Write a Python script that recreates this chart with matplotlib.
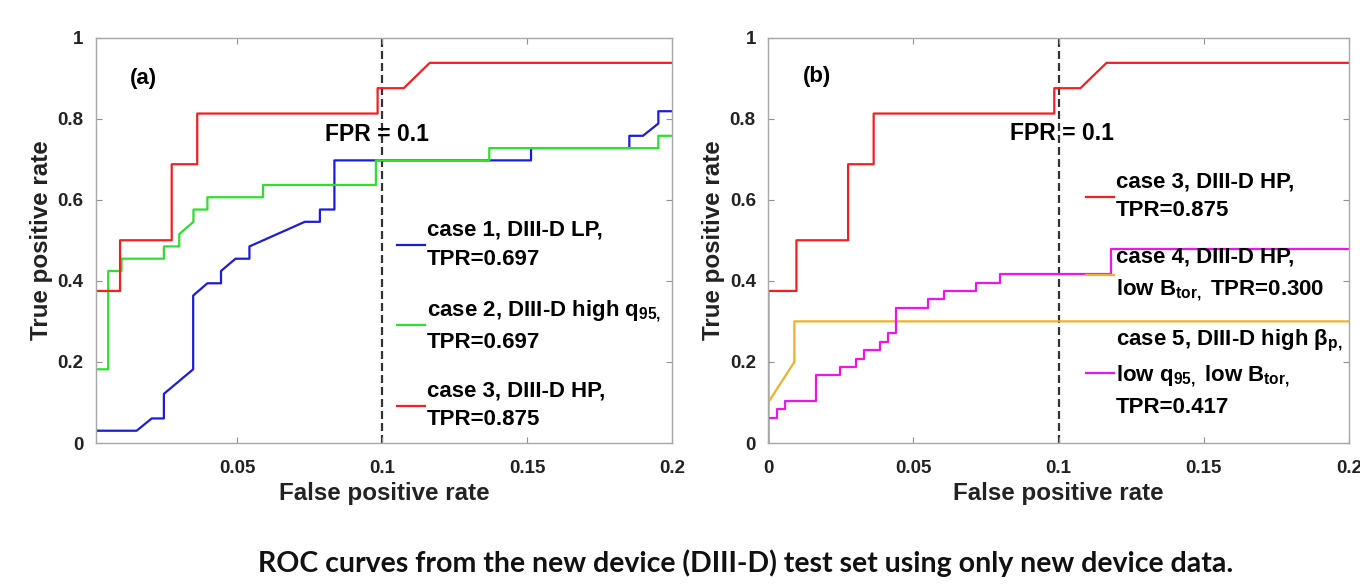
import matplotlib
matplotlib.use("Agg")
import matplotlib.pyplot as plt

plt.rcParams['font.family'] = ['Liberation Sans', 'DejaVu Sans']
plt.rcParams['font.weight'] = 'bold'
plt.rcParams['axes.labelweight'] = 'bold'
plt.rcParams['mathtext.fontset'] = 'custom'
plt.rcParams['mathtext.rm'] = 'Liberation Sans:bold'
plt.rcParams['mathtext.it'] = 'Liberation Sans:bold'
plt.rcParams['mathtext.bf'] = 'Liberation Sans:bold'

# ROC curves (FPR, TPR vertices)
# case 1, DIII-D LP
fpr1 = [0, 0.0154, 0.0206, 0.0248, 0.0248, 0.0349, 0.0349, 0.0398, 0.0445, 0.0445, 0.0495,
        0.0543, 0.0543, 0.0734, 0.0786, 0.0786, 0.0836, 0.0836, 0.1514, 0.1514, 0.1853, 0.1853,
        0.1900, 0.1953, 0.1953, 0.2]
tpr1 = [0.0303, 0.0303, 0.0606, 0.0606, 0.1212, 0.1818, 0.3636, 0.3939, 0.3939, 0.4242, 0.4545,
        0.4545, 0.4848, 0.5455, 0.5455, 0.5758, 0.5758, 0.6970, 0.6970, 0.7273, 0.7273, 0.7576,
        0.7576, 0.7879, 0.8182, 0.8182]
# case 2, DIII-D high q95
fpr2 = [0, 0.0056, 0.0056, 0.0102, 0.0102, 0.0248, 0.0248, 0.0301, 0.0301, 0.0350, 0.0350,
        0.0398, 0.0398, 0.0590, 0.0590, 0.0979, 0.0979, 0.1370, 0.1370, 0.1953, 0.1953, 0.2]
tpr2 = [0.1818, 0.1818, 0.4242, 0.4242, 0.4545, 0.4545, 0.4848, 0.4848, 0.5152, 0.5455, 0.5758,
        0.5758, 0.6061, 0.6061, 0.6364, 0.6364, 0.6970, 0.6970, 0.7273, 0.7273, 0.7576, 0.7576]
# case 3, DIII-D HP
fpr3 = [0, 0, 0.0097, 0.0097, 0.0275, 0.0275, 0.0363, 0.0363, 0.0985, 0.0985, 0.1075, 0.1165, 0.2]
tpr3 = [0, 0.375, 0.375, 0.5, 0.5, 0.6875, 0.6875, 0.8125, 0.8125, 0.875, 0.875, 0.9375, 0.9375]
# case 4, DIII-D HP, low Btor
fpr4 = [0, 0, 0.0090, 0.0090, 0.2]
tpr4 = [0, 0.1, 0.2, 0.3, 0.3]
# case 5, DIII-D high beta_p, low q95, low Btor
fpr5 = [0, 0, 0.0030, 0.0030, 0.0057, 0.0057, 0.0165, 0.0165, 0.0248, 0.0248, 0.0303, 0.0303,
        0.0330, 0.0330, 0.0386, 0.0386, 0.0413, 0.0413, 0.0440, 0.0440, 0.0550, 0.0550, 0.0604,
        0.0604, 0.0716, 0.0716, 0.0799, 0.0799, 0.1180, 0.1180, 0.2]
tpr5 = [0, 0.0625, 0.0625, 0.0833, 0.0833, 0.1042, 0.1042, 0.1667, 0.1667, 0.1875, 0.1875, 0.2083,
        0.2083, 0.2292, 0.2292, 0.25, 0.25, 0.2708, 0.2708, 0.3333, 0.3333, 0.3542, 0.3542,
        0.375, 0.375, 0.3958, 0.3958, 0.4167, 0.4167, 0.4792, 0.4792]

labels_a = ['case 1, DIII-D LP,\nTPR=0.697',
            'case 2, DIII-D high q$_{95,}$\nTPR=0.697',
            'case 3, DIII-D HP,\nTPR=0.875']
labels_b = ['case 3, DIII-D HP,\nTPR=0.875',
            'case 4, DIII-D HP,\nlow B$_{tor,}$ TPR=0.300',
            'case 5, DIII-D high β$_{p,}$\nlow q$_{95,}$ low B$_{tor,}$\nTPR=0.417']
fpr_cut = 0.1
xticks = [0.05, 0.1, 0.15, 0.2]
yticks = [0, 0.2, 0.4, 0.6, 0.8, 1]
caption = 'ROC curves from the new device (DIII-D) test set using only new device data.'

c_red, c_green, c_blue = '#f22020', '#2ee02e', '#1c1cdc'
c_gold, c_mag = '#edb22c', '#ee14ee'
lw = 1.6

fig = plt.figure(figsize=(13.6, 5.86), dpi=100)
ax1 = fig.add_axes([0.0706, 0.244, 0.4235, 0.692])
ax2 = fig.add_axes([0.5649, 0.244, 0.4270, 0.692])


def style(ax):
    ax.set_ylim(0, 1)
    ax.set_yticks(yticks)
    ax.set_yticklabels(['0', '0.2', '0.4', '0.6', '0.8', '1'])
    ax.tick_params(direction='in', length=4, width=0.8, color='#909090', labelsize=13.5,
                   top=True, right=True, pad=9, labelcolor='#222222')
    ax.tick_params(axis='x', pad=12.5)
    for s in ax.spines.values():
        s.set_color('#a8a8a8')
        s.set_linewidth(1.0)
    ax.set_xlabel('False positive rate', fontsize=17.4, labelpad=3, color='#222222')
    ax.set_ylabel('True positive rate', fontsize=17.4, labelpad=3, color='#222222')
    ax.axvline(fpr_cut, color='#333333', lw=1.6, ls=(0, (3.6, 1.8)), zorder=1)


def legend(ax, anchor, spacing):
    leg = ax.legend(loc='upper left', bbox_to_anchor=anchor, frameon=False, fontsize=16,
                    handlelength=1.25, handletextpad=0.1, borderpad=0, borderaxespad=0,
                    labelspacing=spacing)
    for t in leg.get_texts():
        t.set_linespacing(1.5)
    return leg


# (a)
ax1.plot(fpr1, tpr1, color=c_blue, lw=lw, label=labels_a[0])
ax1.plot(fpr2, tpr2, color=c_green, lw=lw, label=labels_a[1])
ax1.plot(fpr3, tpr3, color=c_red, lw=lw, label=labels_a[2])
style(ax1)
ax1.set_xlim(0.0014, 0.2)
ax1.set_xticks(xticks)
ax1.set_xticklabels(['0.05', '0.1', '0.15', '0.2'])
ax1.text(0.0131, 0.90, '(a)', fontsize=16, fontweight='bold', va='center')
ax1.text(0.0803, 0.762, 'FPR = 0.1', fontsize=16.5, fontweight='bold', va='center')
legend(ax1, (0.5226, 0.55), 1.25)

# (b)
ax2.plot(fpr3, tpr3, color=c_red, lw=lw, label=labels_b[0])
ax2.plot(fpr4, tpr4, color=c_gold, lw=lw, label=labels_b[1])
ax2.plot(fpr5, tpr5, color=c_mag, lw=lw, label=labels_b[2])
style(ax2)
ax2.set_xlim(0, 0.2)
ax2.set_xticks([0] + xticks)
ax2.set_xticklabels(['0', '0.05', '0.1', '0.15', '0.2'])
ax2.text(0.012, 0.903, '(b)', fontsize=16, fontweight='bold', va='center')
ax2.text(0.0832, 0.764, 'FPR = 0.1', fontsize=16.5, fontweight='bold', va='center')
legend(ax2, (0.5475, 0.67), 1.15)

fig.text(0.548, 0.039, caption, fontsize=20.5, family=['Lato', 'DejaVu Sans'],
         fontweight='bold', ha='center', va='center', color='#111111')

fig.savefig('out.png', dpi=100, facecolor='white')
